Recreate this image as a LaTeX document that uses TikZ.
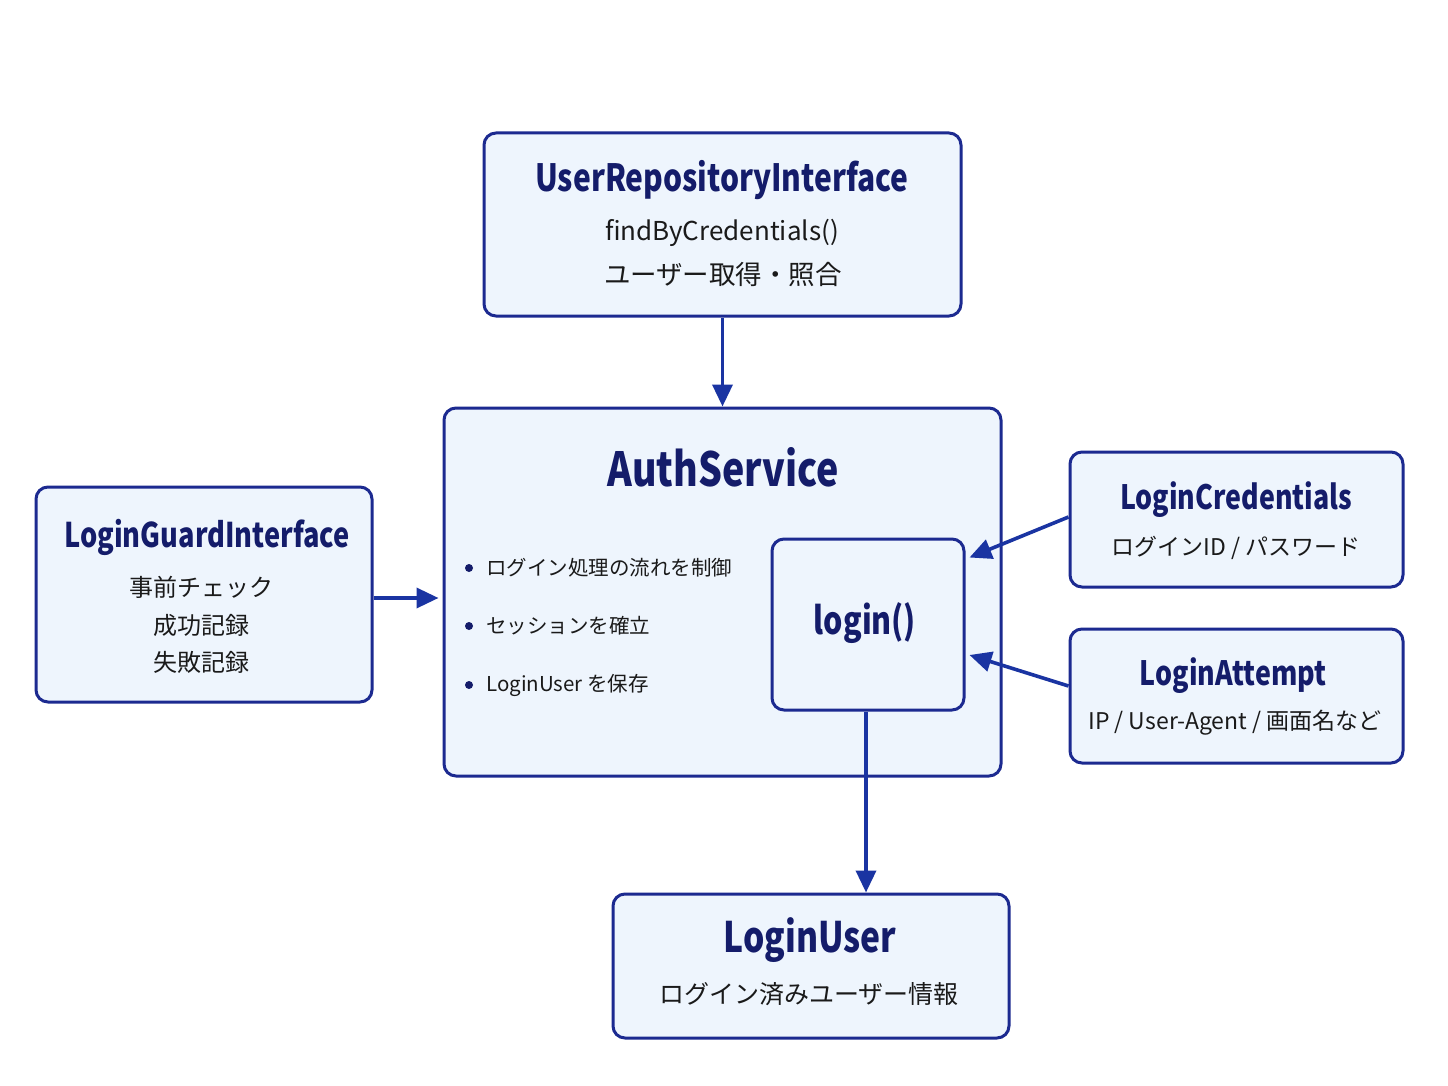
\documentclass[tikz,border=0pt]{standalone}
\usepackage{fontspec}
\setmainfont{Noto Sans CJK JP}
\newfontfamily\titlef{Noto Sans CJK JP}[FakeStretch=0.8]
\usetikzlibrary{arrows.meta,calc}
\definecolor{bordc}{HTML}{1C2A90}
\definecolor{arrc}{HTML}{1A34A2}
\definecolor{fillc}{HTML}{EEF5FD}
\definecolor{titc}{HTML}{141C6A}
\definecolor{txtc}{HTML}{1A1A1A}
\begin{document}
\begin{tikzpicture}[x=1pt,y=-1pt,
  box/.style={draw=bordc,line width=3pt,fill=fillc,rounded corners=12pt,inner sep=0pt},
  ttl/.style={text=titc,inner sep=0pt},
  sub/.style={text=txtc,inner sep=0pt},
  conn/.style={draw=arrc,line width=3.6pt,-{Triangle[length=22pt,width=20pt]}}]
\useasboundingbox[fill=white] (0,0) rectangle (1448,1086);
% boxes
\node[box,minimum width=477pt,minimum height=183pt] (urepo) at (722.5,224.5) {};
\node[box,minimum width=557pt,minimum height=368pt] (auth) at (722.5,592) {};
\node[box,minimum width=192pt,minimum height=171pt] (login) at (868,624.5) {};
\node[box,minimum width=336pt,minimum height=215pt] (guard) at (204,594.5) {};
\node[box,minimum width=333pt,minimum height=135pt] (cred) at (1236.5,519.5) {};
\node[box,minimum width=333pt,minimum height=134pt] (attempt) at (1236.5,696) {};
\node[box,minimum width=396pt,minimum height=144pt] (luser) at (811,966) {};
% texts
\node[ttl,font=\titlef\bfseries\fontsize{37.5}{38}\selectfont] (urepoT) at (722,180) {UserRepositoryInterface};
\node[sub,font=\fontsize{26}{26}\selectfont] (urepoA) at (722,233) {findByCredentials()};
\node[sub,font=\fontsize{26.5}{26}\selectfont] (urepoB) at (723,275) {ユーザー取得・照合};
\node[ttl,font=\titlef\bfseries\fontsize{47}{47}\selectfont] (authT) at (723,467) {AuthService};
\node[ttl,font=\titlef\bfseries\fontsize{38}{38}\selectfont] (loginT) at (865,623) {login()};
\foreach \yy/\tx/\nm in {568/{ログイン処理の流れを制御}/b1,626/{セッションを確立}/b2,685/{LoginUser を保存}/b3}{
  \node[circle,fill=titc,inner sep=0pt,minimum size=8pt] (\nm dot) at (469,\yy) {};
  \node[sub,anchor=west,font=\fontsize{20.5}{21}\selectfont] (\nm) at (486,\yy) {\tx};
}
\node[ttl,font=\titlef\bfseries\fontsize{34}{34}\selectfont] (guardT) at (207,537) {LoginGuardInterface};
\node[sub,font=\fontsize{24}{24}\selectfont] (guardA) at (201,587) {事前チェック};
\node[sub,font=\fontsize{24}{24}\selectfont] (guardB) at (201,625) {成功記録};
\node[sub,font=\fontsize{24}{24}\selectfont] (guardC) at (201,662) {失敗記録};
\node[ttl,font=\titlef\bfseries\fontsize{33.5}{34}\selectfont] (credT) at (1236,500) {LoginCredentials};
\node[sub,font=\fontsize{23}{23}\selectfont] (credA) at (1236,548) {ログインID / パスワード};
\node[ttl,font=\titlef\bfseries\fontsize{33.5}{34}\selectfont] (attT) at (1233,676) {LoginAttempt};
\node[sub,font=\fontsize{23}{23}\selectfont] (attA) at (1235,723) {IP / User-Agent / 画面名など};
\node[ttl,font=\titlef\bfseries\fontsize{42}{42}\selectfont] (luserT) at (810,940) {LoginUser};
\node[sub,font=\fontsize{25}{25}\selectfont] (luserA) at (809,994) {ログイン済みユーザー情報};
% connectors
\draw[conn] (urepo.south) -- (auth.north);
\draw[conn] ([yshift=-3.5pt]guard.east) -- ([xshift=-4pt,yshift=-3.5pt]guard.east -| auth.west);
\draw[conn] ([yshift=2.5pt]cred.west) -- ([xshift=4pt,yshift=67pt]login.east);
\draw[conn] ([yshift=10pt]attempt.west) -- ([xshift=4pt,yshift=-30.5pt]login.east);
\draw[conn] ([xshift=-2pt]login.south) -- ([xshift=-2pt]login.south |- luser.north);
\end{tikzpicture}
\end{document}
